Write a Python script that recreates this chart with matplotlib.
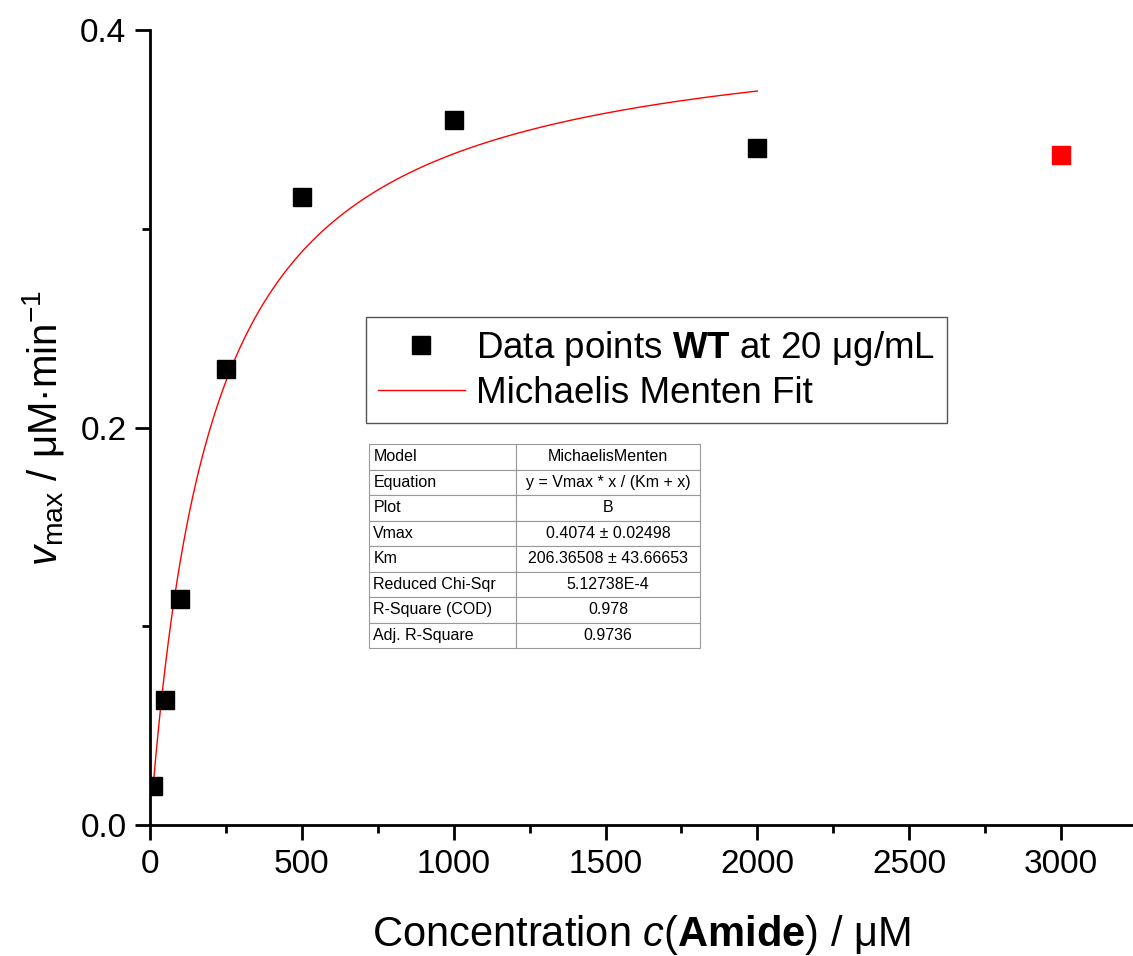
import numpy as np
import matplotlib
matplotlib.use("Agg")
import matplotlib.pyplot as plt
from matplotlib.ticker import MultipleLocator

plt.rcParams['font.family'] = ['Liberation Sans', 'DejaVu Sans']
plt.rcParams['mathtext.fontset'] = 'custom'
plt.rcParams['mathtext.rm'] = 'Liberation Sans'
plt.rcParams['mathtext.it'] = 'Liberation Sans:italic'
plt.rcParams['mathtext.bf'] = 'Liberation Sans:bold'

# data
conc = [10, 50, 100, 250, 500, 1000, 2000]
rate = [0.0196, 0.0629, 0.1137, 0.2294, 0.316, 0.3547, 0.3406]
conc_out = [3000]
rate_out = [0.337]

# fit parameters (from the table)
vmax = 0.4074
km = 206.36508
fit_range = [10, 2000]

table_rows = [
    ["Model", "MichaelisMenten"],
    ["Equation", "y = Vmax * x / (Km + x)"],
    ["Plot", "B"],
    ["Vmax", "0.4074 \u00b1 0.02498"],
    ["Km", "206.36508 \u00b1 43.66653"],
    ["Reduced Chi-Sqr", "5.12738E-4"],
    ["R-Square (COD)", "0.978"],
    ["Adj. R-Square", "0.9736"],
]

fig = plt.figure(figsize=(11.33, 9.56), dpi=100)
ax = fig.add_axes([150/1133, 131/956, 983/1133, 795/956])

xf = np.linspace(fit_range[0], fit_range[1], 400)
yf = vmax * xf / (km + xf)

ax.plot(conc, rate, 's', color='black', markersize=13, zorder=3,
        label='Data points $\\mathbf{WT}$ at 20 \u03bcg/mL')
ax.plot(xf, yf, '-', color='red', lw=1.0, zorder=2, label='Michaelis Menten Fit')
ax.plot(conc_out, rate_out, 's', color='red', markersize=13, zorder=3)

ax.set_xlim(0, 3237)
ax.set_ylim(0, 0.4)
ax.xaxis.set_major_locator(MultipleLocator(500))
ax.xaxis.set_minor_locator(MultipleLocator(250))
ax.yaxis.set_minor_locator(MultipleLocator(0.1))
ax.set_yticks([0.0, 0.2, 0.4])
ax.set_yticklabels(['0.0', '0.2', '0.4'])

for side in ['top', 'right']:
    ax.spines[side].set_visible(False)
for side in ['left', 'bottom']:
    ax.spines[side].set_linewidth(2.0)
ax.tick_params(which='major', direction='out', length=11, width=2.0, labelsize=24, pad=6)
ax.tick_params(which='minor', direction='out', length=5.5, width=2.0)

ax.set_xlabel('Concentration $\\mathit{c}$($\\mathbf{Amide}$) / \u03bcM', fontsize=30, labelpad=24)
ax.set_ylabel('$\\mathit{v}_{\\mathrm{max}}$ / \u03bcM\u00b7min$^{-1}$', fontsize=29, labelpad=10)

leg = ax.legend(loc='upper left', bbox_to_anchor=((366-150)/983, (825-317)/795),
                borderaxespad=0, fontsize=26.5, fancybox=False, framealpha=1,
                edgecolor='#555555', handlelength=2.35, handletextpad=0.3,
                labelspacing=0.22, borderpad=0.33)
leg.get_frame().set_linewidth(1.0)

tb = ax.table(cellText=table_rows, cellLoc='left', colWidths=[0.444, 0.556],
              bbox=[(369-150)/983, (825-648)/795, (700-369)/983, (648-444)/795])
tb.auto_set_font_size(False)
tb.set_fontsize(11.5)
for (r, c), cell in tb.get_celld().items():
    cell.set_edgecolor('#999999')
    cell.set_linewidth(0.8)
    cell.PAD = 0.03
    if c == 1:
        cell.get_text().set_ha('center')
        cell._loc = 'center'
tb.set_zorder(4)

fig.savefig('out.png', dpi=100)
